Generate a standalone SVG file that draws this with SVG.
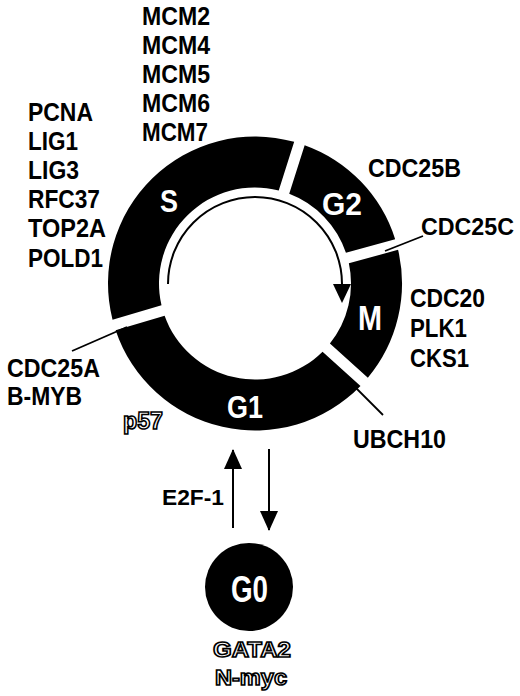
<svg xmlns="http://www.w3.org/2000/svg" width="520" height="696" viewBox="0 0 520 696">
<style>
.seg{fill:#000;stroke:none}
.ph{font-family:"Liberation Sans",Arial,sans-serif;font-weight:bold;fill:#fff}
.lb{font-family:"Liberation Sans",Arial,sans-serif;font-weight:bold;font-size:26px;fill:#000}
.ol{font-family:"Liberation Sans",Arial,sans-serif;font-weight:bold;fill:#fff;stroke:#000;stroke-width:1.6px}
.ln{stroke:#000;stroke-width:1.8;fill:none}
.ar{stroke:#000;stroke-width:2;fill:none}
</style>
<defs>
<marker id="ah" viewBox="0 0 20 18" refX="19" refY="9" markerWidth="20" markerHeight="18" markerUnits="userSpaceOnUse" orient="auto">
<path d="M0,0 L20,9 L0,18 Z" fill="#000"/>
</marker>
</defs>
<rect width="520" height="696" fill="#fff"/>
<g id="phase-S">
<path class="seg" d="M112.53,319.70 A147,147 0 0,1 294.18,141.82 L278.74,190.48 A96,96 0 0,0 161.50,305.29 Z"/>
<text class="ph" x="160" y="212" font-size="31" textLength="18" lengthAdjust="spacingAndGlyphs">S</text>
</g>
<g id="phase-G2">
<path class="seg" d="M304.66,145.14 A147,147 0 0,1 395.16,239.19 L345.94,252.75 A96,96 0 0,0 289.22,193.81 Z"/>
<text class="ph" x="322" y="215" font-size="31" textLength="40" lengthAdjust="spacingAndGlyphs">G2</text>
</g>
<g id="phase-M">
<path class="seg" d="M398.08,249.79 A147,147 0 0,1 367.86,377.69 L329.91,343.54 A96,96 0 0,0 348.86,263.35 Z"/>
<text class="ph" x="358" y="330" font-size="35" textLength="24" lengthAdjust="spacingAndGlyphs">M</text>
</g>
<g id="phase-G1">
<path class="seg" d="M360.49,385.88 A147,147 0 0,1 115.63,330.25 L164.61,315.84 A96,96 0 0,0 322.54,351.72 Z"/>
<text class="ph" x="227" y="418" font-size="31" textLength="36" lengthAdjust="spacingAndGlyphs">G1</text>
</g>
<g id="phase-G0">
<circle cx="249" cy="587" r="44" fill="#000"/>
<text class="ph" x="231" y="602" font-size="37" textLength="37" lengthAdjust="spacingAndGlyphs">G0</text>
</g>
<g id="cycle-arrow">
<path class="ar" d="M168,284 A87,87 0 0,1 342,284"/>
<path d="M333,284 L351,284 L342,303 Z" fill="#000"/>
</g>
<g id="connectors">
<line class="ar" x1="233" y1="528" x2="233" y2="450" marker-end="url(#ah)"/>
<line class="ar" x1="269" y1="449" x2="269" y2="530" marker-end="url(#ah)"/>
<line class="ln" x1="72" y1="351" x2="127" y2="327"/>
<line class="ln" x1="385" y1="251" x2="423" y2="236"/>
<line class="ln" x1="345" y1="377" x2="383" y2="415"/>
</g>
<g id="label-MCM">
<text class="lb" x="142" y="25" textLength="68" lengthAdjust="spacingAndGlyphs">MCM2</text>
<text class="lb" x="142" y="54" textLength="68" lengthAdjust="spacingAndGlyphs">MCM4</text>
<text class="lb" x="142" y="83" textLength="68" lengthAdjust="spacingAndGlyphs">MCM5</text>
<text class="lb" x="142" y="112" textLength="68" lengthAdjust="spacingAndGlyphs">MCM6</text>
<text class="lb" x="142" y="141" textLength="66" lengthAdjust="spacingAndGlyphs">MCM7</text>
</g>
<g id="label-S-genes">
<text class="lb" x="28" y="121" textLength="65" lengthAdjust="spacingAndGlyphs">PCNA</text>
<text class="lb" x="28" y="150" textLength="50" lengthAdjust="spacingAndGlyphs">LIG1</text>
<text class="lb" x="28" y="179" textLength="51" lengthAdjust="spacingAndGlyphs">LIG3</text>
<text class="lb" x="28" y="208" textLength="72" lengthAdjust="spacingAndGlyphs">RFC37</text>
<text class="lb" x="28" y="237" textLength="78" lengthAdjust="spacingAndGlyphs">TOP2A</text>
<text class="lb" x="28" y="267" textLength="75" lengthAdjust="spacingAndGlyphs">POLD1</text>
</g>
<g id="label-CDC25B">
<text class="lb" x="368" y="177" textLength="93" lengthAdjust="spacingAndGlyphs">CDC25B</text>
</g>
<g id="label-CDC25C">
<text class="lb" x="421" y="235" style="font-size:24px" textLength="93" lengthAdjust="spacingAndGlyphs">CDC25C</text>
</g>
<g id="label-M-genes">
<text class="lb" x="410" y="307" textLength="75" lengthAdjust="spacingAndGlyphs">CDC20</text>
<text class="lb" x="410" y="337" textLength="57" lengthAdjust="spacingAndGlyphs">PLK1</text>
<text class="lb" x="410" y="367" textLength="59" lengthAdjust="spacingAndGlyphs">CKS1</text>
</g>
<g id="label-CDC25A">
<text class="lb" x="7" y="377" textLength="93" lengthAdjust="spacingAndGlyphs">CDC25A</text>
<text class="lb" x="7" y="405" textLength="75" lengthAdjust="spacingAndGlyphs">B-MYB</text>
</g>
<g id="label-UBCH10">
<text class="lb" x="353" y="448" textLength="93" lengthAdjust="spacingAndGlyphs">UBCH10</text>
</g>
<g id="label-p57">
<text class="ol" x="123" y="429" font-size="24" textLength="40" lengthAdjust="spacingAndGlyphs">p57</text>
</g>
<g id="label-E2F1">
<text class="lb" x="162" y="505" style="font-size:22px" textLength="62" lengthAdjust="spacingAndGlyphs">E2F-1</text>
</g>
<g id="label-G0-genes">
<text class="ol" x="213" y="657" font-size="22" textLength="78" lengthAdjust="spacingAndGlyphs">GATA2</text>
<text class="ol" x="215" y="685" font-size="22" textLength="72" lengthAdjust="spacingAndGlyphs">N-myc</text>
</g>
</svg>
